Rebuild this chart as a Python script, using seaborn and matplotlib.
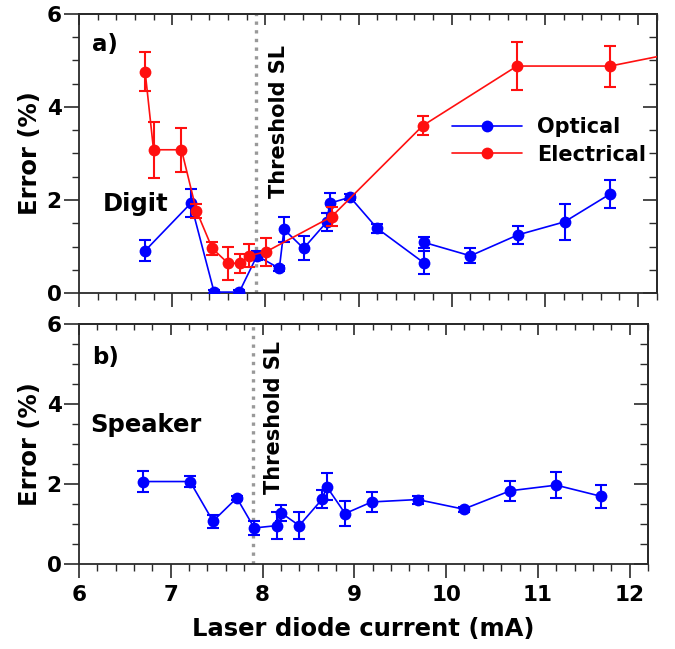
import numpy as np
import pandas as pd
import matplotlib
matplotlib.use("Agg")
import matplotlib.pyplot as plt
from matplotlib.ticker import MultipleLocator
import seaborn as sns

# ---------------- data ----------------
# Panel a) Digit - Optical
digit_opt_x = [6.71, 7.20, 7.45, 7.72, 7.91, 8.15, 8.20, 8.41, 8.66, 8.69, 8.91, 9.20, 9.70, 9.70, 10.20, 10.71, 11.21, 11.70]
digit_opt_y = [0.91, 1.93, 0.02, 0.02, 0.80, 0.53, 1.37, 0.96, 1.53, 1.93, 2.06, 1.39, 0.65, 1.09, 0.80, 1.25, 1.53, 2.13]
digit_opt_err = [0.22, 0.30, 0.05, 0.05, 0.10, 0.06, 0.27, 0.26, 0.20, 0.22, 0.06, 0.10, 0.25, 0.12, 0.16, 0.20, 0.39, 0.30]

# Panel a) Digit - Electrical
digit_ele_x = [6.71, 6.80, 7.10, 7.26, 7.43, 7.60, 7.73, 7.82, 8.01, 8.71, 9.69, 10.70, 11.70, 12.70]
digit_ele_y = [4.76, 3.08, 3.08, 1.77, 0.96, 0.64, 0.64, 0.80, 0.89, 1.64, 3.60, 4.88, 4.88, 5.28]
digit_ele_err = [0.42, 0.60, 0.47, 0.15, 0.14, 0.36, 0.20, 0.25, 0.30, 0.20, 0.20, 0.52, 0.44, 0.30]

# Panel b) Speaker - Optical
spk_opt_x = [6.70, 7.21, 7.46, 7.72, 7.91, 8.16, 8.20, 8.40, 8.65, 8.70, 8.90, 9.19, 9.69, 10.19, 10.70, 11.20, 11.69]
spk_opt_y = [2.06, 2.06, 1.07, 1.65, 0.90, 0.96, 1.28, 0.96, 1.62, 1.93, 1.26, 1.55, 1.61, 1.37, 1.83, 1.97, 1.69]
spk_opt_err = [0.27, 0.14, 0.16, 0.06, 0.17, 0.34, 0.20, 0.34, 0.23, 0.34, 0.31, 0.25, 0.10, 0.06, 0.25, 0.33, 0.28]

threshold_x = 7.9
series_labels = ["Optical", "Electrical"]
panel_labels = ["a)", "b)"]
panel_names = ["Digit", "Speaker"]
x_ticks = [6, 7, 8, 9, 10, 11, 12]
y_ticks = [0, 2, 4, 6]

# ---------------- style ----------------
sns.set_theme(style="ticks")
plt.rcParams["font.family"] = ["DejaVu Sans"]
plt.rcParams["font.weight"] = "bold"
plt.rcParams["axes.labelweight"] = "bold"
plt.rcParams["text.color"] = "black"
plt.rcParams["axes.labelcolor"] = "black"
plt.rcParams["xtick.labelcolor"] = "black"
plt.rcParams["ytick.labelcolor"] = "black"

BLUE = "#0000ff"
RED = "#ff1010"
SPINE = "#2a2a2a"

fig = plt.figure(figsize=(6.75, 6.49), dpi=100)
ax1 = fig.add_axes([0.117, 0.5485, 0.856, 0.430])
ax2 = fig.add_axes([0.117, 0.131, 0.843, 0.370])


def draw_series(ax, x, y, err, color, label):
    df = pd.DataFrame({"x": x, "y": y})
    sns.lineplot(data=df, x="x", y="y", ax=ax, sort=False, estimator=None,
                 color=color, linewidth=1.2, marker="o", markersize=8.5,
                 markeredgewidth=0, label=label, legend=False, zorder=3)
    ax.errorbar(x, y, yerr=err, fmt="none", ecolor=color, elinewidth=1.5,
                capsize=4.5, capthick=1.5, zorder=3)


def style_axes(ax, show_xlabels):
    ax.set_xlim(6, 12.2)
    ax.set_ylim(0, 6)
    ax.set_xticks(x_ticks)
    ax.set_yticks(y_ticks)
    ax.xaxis.set_minor_locator(MultipleLocator(0.2))
    ax.yaxis.set_minor_locator(MultipleLocator(0.5))
    for s in ax.spines.values():
        s.set_visible(True)
        s.set_color(SPINE)
        s.set_linewidth(1.3)
    ax.tick_params(axis="x", which="major", direction="out", length=10, width=1.2,
                   color=SPINE, labelcolor="black", labelsize=15.5, pad=5,
                   labelbottom=show_xlabels)
    ax.tick_params(axis="x", which="minor", direction="out", length=5, width=1.0, color=SPINE)
    ax.tick_params(axis="y", which="major", direction="out", length=11, width=1.2,
                   color=SPINE, labelcolor="black", labelsize=15.5, pad=1.5)
    ax.tick_params(axis="y", which="minor", direction="out", length=5, width=1.0, color=SPINE)
    for lab in ax.get_xticklabels() + ax.get_yticklabels():
        lab.set_fontweight("bold")
    # mirrored inward ticks on top and right
    top = ax.secondary_xaxis("top")
    top.set_xticks(x_ticks)
    top.xaxis.set_minor_locator(MultipleLocator(0.2))
    top.tick_params(which="major", direction="in", length=8, width=1.2, color=SPINE, labeltop=False)
    top.tick_params(which="minor", direction="in", length=4, width=1.0, color=SPINE)
    top.spines["top"].set_color(SPINE)
    top.spines["top"].set_linewidth(1.3)
    right = ax.secondary_yaxis("right")
    right.set_yticks(y_ticks)
    right.yaxis.set_minor_locator(MultipleLocator(0.5))
    right.tick_params(which="major", direction="in", length=10, width=1.2, color=SPINE, labelright=False)
    right.tick_params(which="minor", direction="in", length=6, width=1.0, color=SPINE)
    right.spines["right"].set_color(SPINE)
    right.spines["right"].set_linewidth(1.3)
    ax.set_ylabel("Error (%)", fontsize=17.5, fontweight="bold", labelpad=3, color="black")
    ax.axvline(threshold_x, color="#999999", linewidth=2.4,
               linestyle=(0, (1, 1.6)), zorder=1)


# ---------------- panel a ----------------
draw_series(ax1, digit_opt_x, digit_opt_y, digit_opt_err, BLUE, series_labels[0])
draw_series(ax1, digit_ele_x, digit_ele_y, digit_ele_err, RED, series_labels[1])
style_axes(ax1, show_xlabels=False)
ax1.set_xlabel("")
ax1.text(0.022, 0.89, panel_labels[0], transform=ax1.transAxes, fontsize=16.5,
         fontweight="bold", ha="left", va="center")
ax1.text(0.042, 0.32, panel_names[0], transform=ax1.transAxes, fontsize=17.5,
         fontweight="bold", ha="left", va="center")
ax1.text(8.15, 0.89, "Threshold SL", transform=ax1.get_xaxis_transform(),
         rotation=90, fontsize=15, fontweight="bold", ha="center", va="top")
handles = [ln for ln in ax1.lines if ln.get_label() in series_labels]
leg = ax1.legend(handles=handles, labels=series_labels, loc="center left",
                 bbox_to_anchor=(0.645, 0.545), frameon=False,
                 handlelength=3.4, handletextpad=0.7, labelspacing=0.35,
                 borderpad=0, borderaxespad=0, prop={"weight": "bold", "size": 15})
for t in leg.get_texts():
    t.set_color("black")

# ---------------- panel b ----------------
draw_series(ax2, spk_opt_x, spk_opt_y, spk_opt_err, BLUE, series_labels[0])
style_axes(ax2, show_xlabels=True)
ax2.set_xlabel("Laser diode current (mA)", fontsize=17.5, fontweight="bold",
               labelpad=9, color="black")
ax2.text(0.023, 0.86, panel_labels[1], transform=ax2.transAxes, fontsize=16.5,
         fontweight="bold", ha="left", va="center")
ax2.text(0.019, 0.58, panel_names[1], transform=ax2.transAxes, fontsize=17.5,
         fontweight="bold", ha="left", va="center")
ax2.text(8.13, 0.93, "Threshold SL", transform=ax2.get_xaxis_transform(),
         rotation=90, fontsize=15, fontweight="bold", ha="center", va="top")

fig.savefig("out.png", dpi=100)
